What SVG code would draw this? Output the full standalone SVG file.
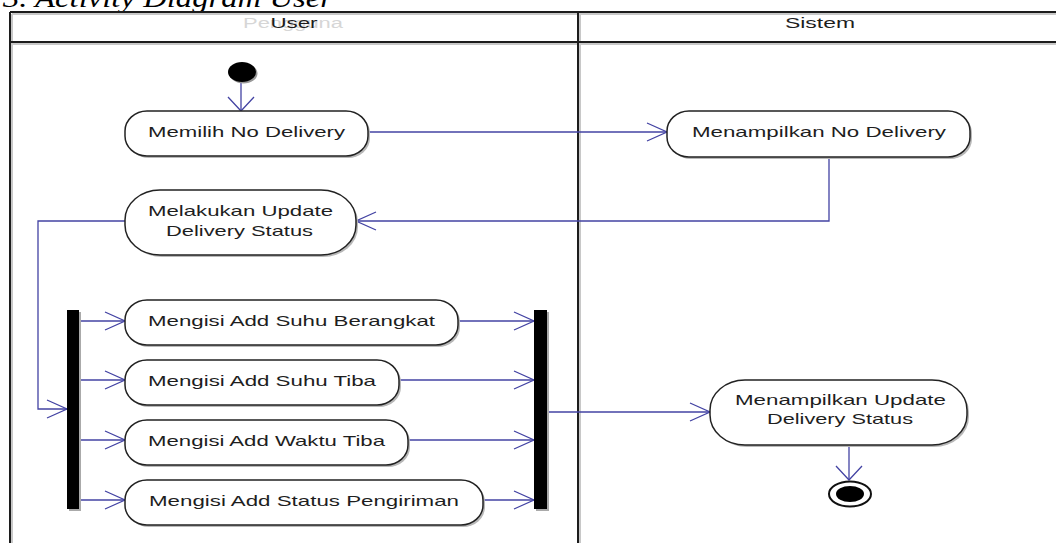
<svg xmlns="http://www.w3.org/2000/svg" width="1056" height="543" viewBox="0 0 1056 543">
<style>
.lane{stroke:#1c1c1c;stroke-width:2;fill:none}
.lsh{stroke:#c8c8c8;stroke-width:2;fill:none}
.act{fill:#fff;stroke:#222;stroke-width:1.5}
.sh{fill:#b8b8b8}
.t{font-family:"Liberation Sans",Arial,sans-serif;font-size:15px;fill:#1e1e1e;text-anchor:middle}
.hd{font-family:"Liberation Sans",Arial,sans-serif;font-size:14px;fill:#1e1e1e;text-anchor:middle}
.ghost{font-family:"Liberation Sans",Arial,sans-serif;font-size:14px;fill:#d6d6d6;text-anchor:middle}
.title{font-family:"Liberation Serif","Times New Roman",serif;font-style:italic;font-size:28px;fill:#000}
.c{stroke:#4343a3;stroke-width:1.3;fill:none}
.bar{fill:#000}
</style>
<defs>
<marker id="ah" markerUnits="userSpaceOnUse" markerWidth="24" markerHeight="24" refX="20" refY="10" orient="auto" overflow="visible">
<path d="M0,1 L20,10 L0,19" fill="none" stroke="#4343a3" stroke-width="1.3"/>
</marker>
<marker id="av" markerUnits="userSpaceOnUse" markerWidth="24" markerHeight="30" refX="14" refY="10" orient="auto" overflow="visible">
<path d="M0,-3 L14,10 L0,23" fill="none" stroke="#4343a3" stroke-width="1.3"/>
</marker>
</defs>
<rect width="1056" height="543" fill="#fff"/>
<text class="title" x="3" y="7" textLength="330" lengthAdjust="spacingAndGlyphs">3. Activity Diagram User</text>
<g id="lanes">
<path class="lsh" d="M12,14 H1056 M12,44 H1056 M12,14 V543 M580,14 V543"/>
<path class="lane" d="M10,12 H1056 M10,42 H1056 M10,12 V543 M578,12 V543"/>
<text class="ghost" x="293" y="28" textLength="100" lengthAdjust="spacingAndGlyphs">Pengguna</text>
<text class="hd" x="294" y="28" textLength="47" lengthAdjust="spacingAndGlyphs">User</text>
<text class="hd" x="820" y="28" textLength="70" lengthAdjust="spacingAndGlyphs">Sistem</text>
</g>
<g id="connectors">
<path class="c" d="M241,82 V111" marker-end="url(#av)"/>
<path class="c" d="M368,132 H667" marker-end="url(#ah)"/>
<path class="c" d="M829,157 V221 H356" marker-end="url(#ah)"/>
<path class="c" d="M125,221 H38 V409 H67" marker-end="url(#ah)"/>
<path class="c" d="M79,321 H125" marker-end="url(#ah)"/>
<path class="c" d="M79,380 H125" marker-end="url(#ah)"/>
<path class="c" d="M79,440 H125" marker-end="url(#ah)"/>
<path class="c" d="M79,500 H125" marker-end="url(#ah)"/>
<path class="c" d="M458,321 H534" marker-end="url(#ah)"/>
<path class="c" d="M399,380 H534" marker-end="url(#ah)"/>
<path class="c" d="M408,440 H534" marker-end="url(#ah)"/>
<path class="c" d="M483,500 H534" marker-end="url(#ah)"/>
<path class="c" d="M547,412 H710" marker-end="url(#ah)"/>
<path class="c" d="M849,445 V480" marker-end="url(#av)"/>
</g>
<g id="start">
<ellipse cx="243.5" cy="73.5" rx="14" ry="10" fill="#999"/>
<ellipse cx="242" cy="72" rx="14" ry="10" fill="#000"/>
</g>
<g id="memilih">
<rect class="sh" x="127" y="113" width="243" height="45" rx="22" ry="20"/>
<rect class="act" x="125" y="111" width="243" height="45" rx="22" ry="20"/>
<text class="t" x="246.5" y="137" textLength="197" lengthAdjust="spacingAndGlyphs">Memilih No Delivery</text>
</g>
<g id="menampilkan-no">
<rect class="sh" x="669" y="113" width="303" height="46" rx="22" ry="20"/>
<rect class="act" x="667" y="111" width="303" height="46" rx="22" ry="20"/>
<text class="t" x="819" y="137" textLength="254" lengthAdjust="spacingAndGlyphs">Menampilkan No Delivery</text>
</g>
<g id="melakukan">
<rect class="sh" x="127" y="192" width="231" height="65" rx="35" ry="30"/>
<rect class="act" x="125" y="190" width="231" height="65" rx="35" ry="30"/>
<text class="t" x="240.5" y="216" textLength="185" lengthAdjust="spacingAndGlyphs">Melakukan Update</text>
<text class="t" x="239.5" y="236" textLength="147" lengthAdjust="spacingAndGlyphs">Delivery Status</text>
</g>
<g id="fork">
<rect x="69" y="312" width="12" height="199" fill="#aaa"/>
<rect class="bar" x="67" y="310" width="12" height="199"/>
</g>
<g id="berangkat">
<rect class="sh" x="127" y="302" width="333" height="45" rx="22" ry="20"/>
<rect class="act" x="125" y="300" width="333" height="45" rx="22" ry="20"/>
<text class="t" x="291.5" y="326" textLength="287" lengthAdjust="spacingAndGlyphs">Mengisi Add Suhu Berangkat</text>
</g>
<g id="suhu-tiba">
<rect class="sh" x="127" y="362" width="274" height="45" rx="22" ry="20"/>
<rect class="act" x="125" y="360" width="274" height="45" rx="22" ry="20"/>
<text class="t" x="262" y="386" textLength="228" lengthAdjust="spacingAndGlyphs">Mengisi Add Suhu Tiba</text>
</g>
<g id="waktu-tiba">
<rect class="sh" x="127" y="422" width="283" height="45" rx="22" ry="20"/>
<rect class="act" x="125" y="420" width="283" height="45" rx="22" ry="20"/>
<text class="t" x="266.5" y="446" textLength="237" lengthAdjust="spacingAndGlyphs">Mengisi Add Waktu Tiba</text>
</g>
<g id="status-pengiriman">
<rect class="sh" x="127" y="482" width="358" height="45" rx="22" ry="20"/>
<rect class="act" x="125" y="480" width="358" height="45" rx="22" ry="20"/>
<text class="t" x="304" y="506" textLength="310" lengthAdjust="spacingAndGlyphs">Mengisi Add Status Pengiriman</text>
</g>
<g id="join">
<rect x="536" y="312" width="13" height="199" fill="#aaa"/>
<rect class="bar" x="534" y="310" width="13" height="199"/>
</g>
<g id="menampilkan-update">
<rect class="sh" x="712" y="382" width="257" height="65" rx="35" ry="30"/>
<rect class="act" x="710" y="380" width="257" height="65" rx="35" ry="30"/>
<text class="t" x="840.5" y="405" textLength="211" lengthAdjust="spacingAndGlyphs">Menampilkan Update</text>
<text class="t" x="840" y="424" textLength="146" lengthAdjust="spacingAndGlyphs">Delivery Status</text>
</g>
<g id="end">
<ellipse cx="850" cy="494" rx="21" ry="12.5" fill="#fff" stroke="#111" stroke-width="2"/>
<ellipse cx="850" cy="494" rx="14" ry="8" fill="#000"/>
</g>
</svg>
